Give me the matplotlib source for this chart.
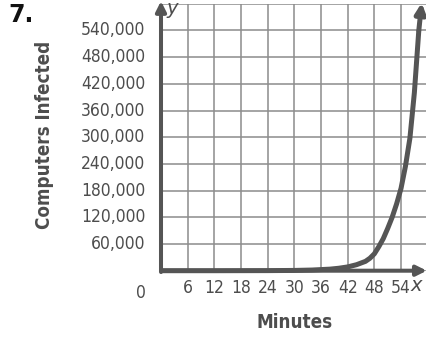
import matplotlib
matplotlib.use("Agg")
import matplotlib.pyplot as plt

# Data: infected computers over time (minutes)
minutes = [0, 12, 24, 30, 34, 38, 40, 42, 44, 46, 47, 48, 49, 50, 51, 52,
           53, 54, 55, 56, 57, 58]
infected = [0, 0, 200, 600, 1500, 3500, 5500, 8500, 13500, 21000, 28000,
            38000, 54000, 72000, 95000, 120000, 150000, 185000, 235000,
            298000, 400000, 540000]
arrow_tip = (58.65, 602000)

x_ticks = [6, 12, 18, 24, 30, 36, 42, 48, 54]
y_ticks = [60000, 120000, 180000, 240000, 300000, 360000, 420000, 480000, 540000]
y_tick_labels = [f"{v:,}" for v in y_ticks]

face = "DejaVu Sans"
ink = "#555555"
text_col = "#4d4d4d"
grid_col = "#8c8c8c"

W, H = 426, 337
fig = plt.figure(figsize=(W / 100, H / 100), dpi=100)
x0, x1 = 161, 427.7
y0, y1 = 270.7, 3.7
ax = fig.add_axes([x0 / W, 1 - y0 / H, (x1 - x0) / W, (y0 - y1) / H])
ax.set_xlim(0, 60)
ax.set_ylim(0, 600000)

for s in ax.spines.values():
    s.set_visible(False)

ax.set_xticks(list(range(0, 61, 6)))
ax.set_yticks(list(range(0, 600001, 60000)))
ax.tick_params(length=0, labelbottom=False, labelleft=False)
ax.grid(True, color=grid_col, lw=1.1)
ax.set_axisbelow(True)

tick_kw = dict(fontsize=12.5, family=face, fontstretch="condensed",
               color=text_col)

# Tick labels
for v in x_ticks:
    ax.text(v, -38000, str(v), ha="center", va="center", clip_on=False,
            **tick_kw)
for v, lab in zip(y_ticks, y_tick_labels):
    ax.annotate(lab, xy=(0, v), xytext=(-15.5, 0), textcoords="offset pixels",
                ha="right", va="center", annotation_clip=False, **tick_kw)
ax.annotate("0", xy=(0, 0), xytext=(-15.5, -22.5), textcoords="offset pixels",
            ha="right", va="center", annotation_clip=False, **tick_kw)

# Axes with arrowheads
ax.annotate("", xy=(59.8, 0), xytext=(0, 0), annotation_clip=False,
            arrowprops=dict(arrowstyle="-|>", lw=2.9, color=ink,
                            mutation_scale=15, shrinkA=0, shrinkB=0))
ax.annotate("", xy=(0, 606000), xytext=(0, -3000), annotation_clip=False,
            arrowprops=dict(arrowstyle="-|>", lw=2.9, color=ink,
                            mutation_scale=15, shrinkA=0, shrinkB=0))
ax.text(2.6, 590000, "y", fontsize=14, style="italic", family=face,
        color=text_col, ha="center", va="center", clip_on=False)
ax.text(57.5, -34000, "x", fontsize=14, style="italic", family=face,
        color=text_col, ha="center", va="center", clip_on=False)

# Growth curve
ax.plot(minutes, infected, color=ink, lw=3.6, solid_capstyle="butt",
        solid_joinstyle="round", clip_on=False)
ax.annotate("", xy=arrow_tip, xytext=(minutes[-1], infected[-1]),
            annotation_clip=False,
            arrowprops=dict(arrowstyle="-|>", lw=3.6, color=ink,
                            mutation_scale=15, shrinkA=0, shrinkB=0))

# Axis titles
title_kw = dict(fontsize=13.5, fontweight="bold", family=face,
                fontstretch="condensed", color=text_col)
fig.text(295 / W, 1 - 323 / H, "Minutes", ha="center", va="center",
         **title_kw)
fig.text(45 / W, 1 - 135 / H, "Computers Infected", rotation=90,
         ha="center", va="center", **title_kw)
fig.text(8 / W, 1 - 15 / H, "7.", fontsize=17, fontweight="bold",
         family=face, color="#111111", ha="left", va="center")

fig.savefig("out.png", dpi=100)
